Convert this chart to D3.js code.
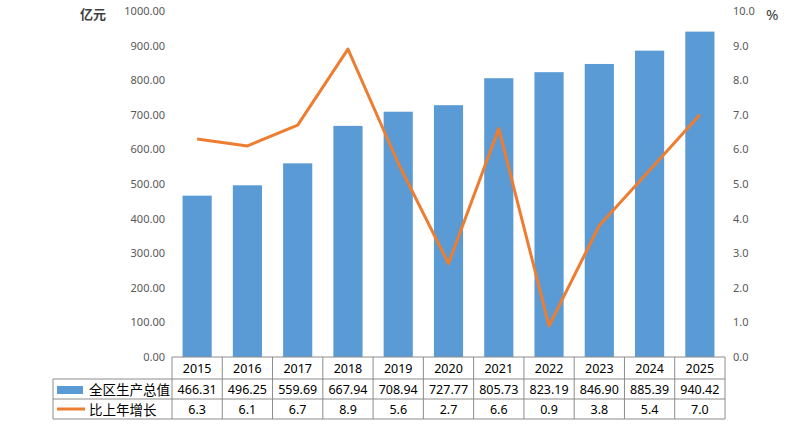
<!DOCTYPE html>
<html>
<head>
<meta charset="utf-8">
<script src="https://cdn.jsdelivr.net/npm/d3@7"></script>
<style>
  body { margin: 0; background: #fff; }
  text { font-family: "Noto Sans", "Noto Sans CJK SC", sans-serif; }
</style>
</head>
<body>
<div id="chart"></div>
<script>
// data
let years = ["2015", "2016", "2017", "2018", "2019", "2020", "2021", "2022", "2023", "2024", "2025"];
let gdp = [466.31, 496.25, 559.69, 667.94, 708.94, 727.77, 805.73, 823.19, 846.90, 885.39, 940.42];
let growth = [6.3, 6.1, 6.7, 8.9, 5.6, 2.7, 6.6, 0.9, 3.8, 5.4, 7.0];
let leftTicks = [0, 100, 200, 300, 400, 500, 600, 700, 800, 900, 1000];
let rightTicks = [0, 1, 2, 3, 4, 5, 6, 7, 8, 9, 10];
let seriesNames = ["全区生产总值", "比上年增长"];

let width = 787, height = 429;
let margin = { top: 11, left: 172, right: 62, bottom: 72 };
let plotW = width - margin.left - margin.right;
let plotH = height - margin.top - margin.bottom;

let svg = d3.select("#chart").append("svg")
  .attr("width", width)
  .attr("height", height);

let g = svg.append("g").attr("transform", `translate(${margin.left},${margin.top})`);

let x = d3.scaleBand().domain(years).range([0, plotW]).paddingInner(0.42).paddingOuter(0.21);
let xCell = d3.scaleBand().domain(years).range([0, plotW]);
let yL = d3.scaleLinear().domain([0, 1000]).range([plotH, 0]);
let yR = d3.scaleLinear().domain([0, 10]).range([plotH, 0]);

// left axis labels
let axisL = d3.axisLeft(yL).tickValues(leftTicks).tickSize(0).tickPadding(7).tickFormat(d3.format(".2f"));
let gl = g.append("g").call(axisL);
gl.select(".domain").remove();
gl.selectAll("text").attr("fill", "#595959").style("font-size", "11px");

// right axis labels
let axisR = d3.axisRight(yR).tickValues(rightTicks).tickSize(0).tickPadding(8).tickFormat(d3.format(".1f"));
let gr = g.append("g").attr("transform", `translate(${plotW},0)`).call(axisR);
gr.select(".domain").remove();
gr.selectAll("text").attr("fill", "#595959").style("font-size", "11px");

// units
svg.append("text").attr("x", 80).attr("y", 19).text("亿元")
  .attr("fill", "#404040").style("font-size", "13px").style("font-weight", "bold")
  .style("font-family", "'Noto Sans CJK SC'");
svg.append("text").attr("x", 766).attr("y", 20).text("%")
  .attr("fill", "#404040").style("font-size", "15px");

// bars
g.selectAll("rect.bar").data(gdp).enter().append("rect")
  .attr("class", "bar")
  .attr("x", (d, i) => x(years[i]))
  .attr("y", d => yL(d))
  .attr("width", x.bandwidth())
  .attr("height", d => plotH - yL(d))
  .attr("fill", "#5B9BD5");

// line
let line = d3.line()
  .x((d, i) => xCell(years[i]) + xCell.bandwidth() / 2)
  .y(d => yR(d));
g.append("path").datum(growth)
  .attr("d", line)
  .attr("fill", "none")
  .attr("stroke", "#ED7D31")
  .attr("stroke-width", 3)
  .attr("stroke-linejoin", "round");

// data table
let tableLeft = 53 - margin.left;
let rowH = [22, 20, 20];
let rowY = [plotH, plotH + 22, plotH + 42, plotH + 62];
let border = "#8c8c8c";
let tg = g.append("g");

// horizontal lines
tg.append("line").attr("x1", 0).attr("x2", plotW).attr("y1", rowY[0]).attr("y2", rowY[0]).attr("stroke", border);
[1, 2, 3].forEach(r => {
  tg.append("line").attr("x1", tableLeft).attr("x2", plotW)
    .attr("y1", rowY[r]).attr("y2", rowY[r]).attr("stroke", border);
});
// vertical lines
years.forEach(yr => {
  tg.append("line").attr("x1", xCell(yr)).attr("x2", xCell(yr))
    .attr("y1", rowY[0]).attr("y2", rowY[3]).attr("stroke", border);
});
tg.append("line").attr("x1", plotW).attr("x2", plotW).attr("y1", rowY[0]).attr("y2", rowY[3]).attr("stroke", border);
tg.append("line").attr("x1", tableLeft).attr("x2", tableLeft).attr("y1", rowY[1]).attr("y2", rowY[3]).attr("stroke", border);

// cell text
let rows = [years, gdp.map(d => d3.format(".2f")(d)), growth.map(d => d3.format(".1f")(d))];
rows.forEach((vals, r) => {
  tg.selectAll(null).data(vals).enter().append("text")
    .attr("x", (d, i) => xCell(years[i]) + xCell.bandwidth() / 2)
    .attr("y", rowY[r] + rowH[r] / 2)
    .attr("text-anchor", "middle")
    .attr("dominant-baseline", "central")
    .attr("fill", "#000")
    .style("font-size", "12.5px")
    .text(d => d);
});

// legend keys in table
tg.append("rect").attr("x", 57 - margin.left).attr("y", rowY[1] + 7).attr("width", 26).attr("height", 8).attr("fill", "#5B9BD5");
tg.append("line").attr("x1", 57 - margin.left).attr("x2", 85 - margin.left)
  .attr("y1", rowY[2] + 10).attr("y2", rowY[2] + 10)
  .attr("stroke", "#ED7D31").attr("stroke-width", 3);
seriesNames.forEach((s, i) => {
  tg.append("text").attr("x", 89 - margin.left).attr("y", rowY[i + 1] + rowH[i + 1] / 2)
    .attr("dominant-baseline", "central")
    .style("font-family", "'Noto Sans CJK SC'")
    .style("font-size", "13.5px")
    .attr("fill", "#000")
    .text(s);
});
</script>
</body>
</html>
